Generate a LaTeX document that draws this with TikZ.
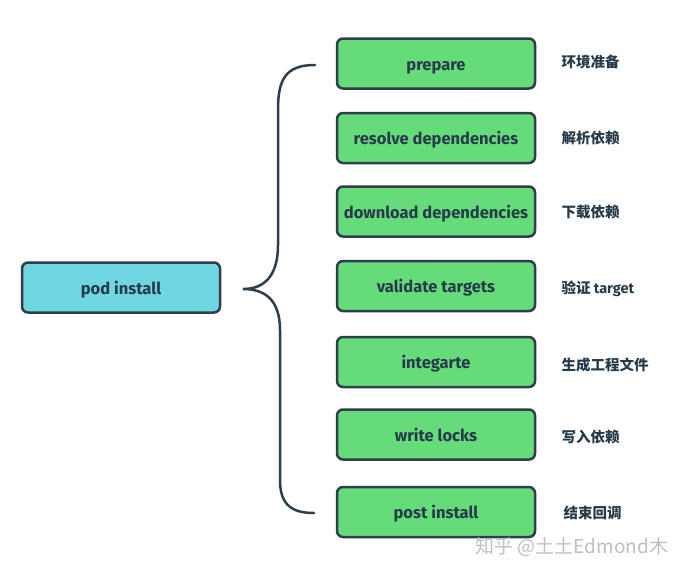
\documentclass[tikz,border=0pt]{standalone}
\usepackage{fontspec}
\setmainfont{Fira Sans}
\newfontfamily\cjk{Noto Sans CJK SC}
\definecolor{edge}{HTML}{2D3E4C}
\definecolor{txt}{HTML}{263A4A}
\definecolor{stepgreen}{HTML}{66DB7A}
\definecolor{podcyan}{HTML}{6FD6E2}
\begin{document}
\begin{tikzpicture}[x=1pt,y=-1pt,
  box/.style={draw=edge, line width=2.5pt, rounded corners=6pt, minimum width=198pt, minimum height=50pt, inner sep=0pt, text height=14.5pt, text depth=1pt, font=\fontsize{16.5}{18}\selectfont\bfseries, text=txt},
  stepbox/.style={box, fill=stepgreen},
  podbox/.style={box, fill=podcyan},
  note/.style={anchor=west, text=txt, font=\fontsize{14.5}{17}\selectfont\cjk\bfseries}]
\useasboundingbox (0,0) rectangle (700,576);
\fill[white] (0,0) rectangle (700,576);
\node[podbox] (pod) at (121,287.5) {pod install};
\node[stepbox] (s1) at (436,63.5) {prepare};
\node[stepbox] (s2) at (436,138) {resolve dependencies};
\node[stepbox] (s3) at (436,211.5) {download dependencies};
\node[stepbox] (s4) at (436,286) {validate targets};
\node[stepbox] (s5) at (436,362) {integarte};
\node[stepbox] (s6) at (436,434.5) {write locks};
\node[stepbox] (s7) at (436,512) {post install};
\node[note] (n1) at (558,62) {环境准备};
\node[note] (n2) at (558,138) {解析依赖};
\node[note] (n3) at (558,212) {下载依赖};
\node[note] (n4) at (558,289) {验证 {\fontspec{Fira Sans}\bfseries target}};
\node[note] (n5) at (558,365) {生成工程文件};
\node[note] (n6) at (558,437) {写入依赖};
\node[note] (n7) at (560,513) {结束回调};
\coordinate (btop) at (315,65);
\coordinate (bbot) at (314,513);
\coordinate (btip) at (243,289);
\draw[edge, line width=2.5pt, line cap=round]
  (btop) .. controls (285,65) and (278,80) .. (278,110)
  -- (278,245) .. controls (278,275) and (265,289) .. (btip)
  .. controls (265,289) and (280,300) .. (280,330)
  -- (280,480) .. controls (280,505) and (292,513) .. (bbot);
\node[anchor=west, text=black!25, font=\fontsize{19}{21}\selectfont\cjk] (wm) at (472,547) {知乎 @土土Edmond木};
\end{tikzpicture}
\end{document}
